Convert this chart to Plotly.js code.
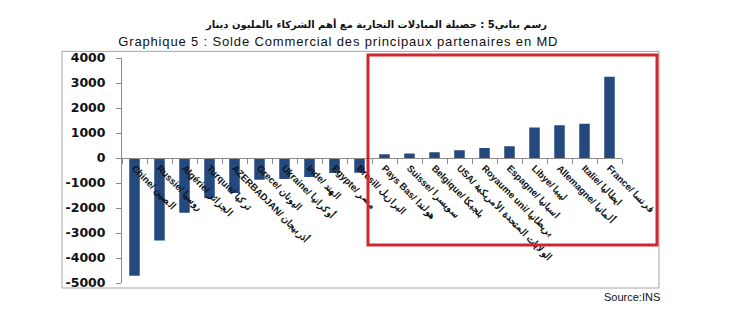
<!DOCTYPE html>
<html><head><meta charset="utf-8">
<script src="https://cdn.plot.ly/plotly-3.0.1.min.js"></script>
<style>html,body{margin:0;padding:0;background:#fff;}#chart{width:743px;height:323px;}
.frtitle{letter-spacing:0.85px;}</style>
</head><body><div id="chart"></div>
<script>
const categoriesFr = ["Chine","Russie","Algérie","Turquie","AZERBADJAN","Grece","Ukraine","Inde","Egypte","Bresil","Pays Bas","Suisse","Belgique","USA","Royaume uni","Espagne","Libye","Allemagne","Italie","France"];
const categoriesAr = ["الصين","روسيا","الجزائر","تركيا","أذربيجان","اليونان","أوكرانيا","الهند","مصر","البرازيل","هولندا","سويسرا","بلجيكا","الولايات المتحدة الأمريكية","بريطانيا","اسبانيا","ليبيا","ألمانيا","ايطاليا","فرنسا"];
const values = [-4710,-3300,-2190,-1600,-1400,-870,-840,-760,-600,-590,150,180,230,310,400,470,1220,1310,1370,3250];
const yTicks = [4000,3000,2000,1000,0,-1000,-2000,-3000,-4000,-5000];
const titleAr = "رسم بياني5 : حصيلة المبادلات التجارية مع أهم الشركاء بالمليون دينار";
const titleFr = "Graphique 5 : Solde Commercial des principaux partenaires en MD";
const sourceText = "Source:INS";

const labels = categoriesFr.map((c,i)=> c + "/ " + categoriesAr[i]);

const trace = {
  type:'bar', x: labels, y: values,
  marker:{color:'#24497e'}, width:0.42, hoverinfo:'none'
};
const layout = {
  width:743, height:323,
  margin:{l:122, r:121, t:58, b:40},
  paper_bgcolor:'#fff', plot_bgcolor:'rgba(0,0,0,0)',
  showlegend:false,
  font:{family:'Liberation Sans, Arial, sans-serif', color:'#000'},
  xaxis:{
    type:'category', anchor:'free', position:5/9,
    showgrid:false, zeroline:false,
    showline:true, linecolor:'#8c8c8c', linewidth:1,
    ticks:'outside', tickson:'boundaries', ticklen:5, tickcolor:'#8c8c8c',
    tickangle:45, tickfont:{size:9.5, family:'Liberation Sans, Arial, sans-serif', color:'#111', weight:'bold'},
    range:[-0.5,19.5], fixedrange:true
  },
  yaxis:{
    range:[-5000,4000], tickvals:yTicks, ticktext:yTicks.map(String),
    showgrid:false, zeroline:false,
    showline:true, linecolor:'#8c8c8c', linewidth:1,
    ticks:'outside', ticklen:5, tickcolor:'#8c8c8c', ticklabelstandoff:8,
    tickfont:{size:12.5, family:'DejaVu Sans, sans-serif', color:'#111', weight:'bold'},
    fixedrange:true
  },
  shapes:[
    {type:'rect', xref:'paper', yref:'paper', x0:-60/500, x1:537/500, y0:(283-288)/224.4, y1:(283-52)/224.4,
     line:{color:'#a6a6a6', width:1}, fillcolor:'rgba(0,0,0,0)'},
    {type:'rect', xref:'paper', yref:'paper', x0:(368-122)/500, x1:(657-122)/500, y0:(283-245)/224.4, y1:(283-55.5)/224.4,
     line:{color:'#d0262f', width:3}, fillcolor:'rgba(0,0,0,0)'}
  ],
  annotations:[
    {text:'<b>'+titleAr+'</b>', xref:'paper', yref:'paper', x:(376-122)/500, y:(283-25)/224.4, showarrow:false,
     font:{size:10, family:'DejaVu Sans, sans-serif', color:'#111'}, xanchor:'center', yanchor:'middle'},
    {text:'<span class="frtitle">'+titleFr+'</span>', xref:'paper', yref:'paper', x:(338-122)/500, y:(283-42)/224.4, showarrow:false,
     font:{size:13, family:'Liberation Sans, Arial, sans-serif', color:'#111'}, xanchor:'center', yanchor:'middle'},
    {text:sourceText, xref:'paper', yref:'paper', x:(632-122)/500, y:(283-297)/224.4, showarrow:false,
     font:{size:11, family:'Liberation Sans, Arial, sans-serif', color:'#111'}, xanchor:'center', yanchor:'middle'}
  ]
};
Plotly.newPlot('chart',[trace],layout,{displayModeBar:false, staticPlot:true}).then(()=>{
  document.querySelectorAll('.annotation-text').forEach(t=>{
    if (t.textContent.indexOf('Graphique')===0) t.style.letterSpacing='0.85px';
  });
});
</script></body></html>
